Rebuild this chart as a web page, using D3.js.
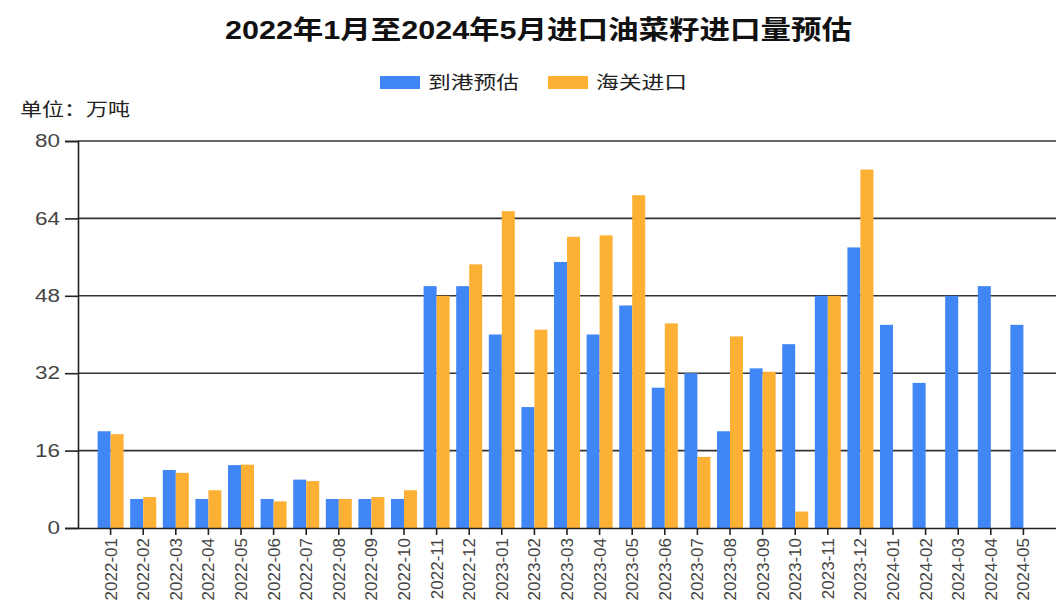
<!DOCTYPE html>
<html>
<head>
<meta charset="utf-8">
<script src="https://cdn.jsdelivr.net/npm/d3@7"></script>
<style>
  body { margin: 0; background: #fff; }
  text { font-family: "Liberation Sans", Arial, "Noto Sans CJK SC", sans-serif; }
</style>
</head>
<body>
<div id="chart-area"></div>
<script>
// Data
const months = ['2022-01', '2022-02', '2022-03', '2022-04', '2022-05', '2022-06', '2022-07', '2022-08',
    '2022-09', '2022-10', '2022-11', '2022-12', '2023-01', '2023-02', '2023-03', '2023-04', '2023-05',
    '2023-06', '2023-07', '2023-08', '2023-09', '2023-10', '2023-11', '2023-12', '2024-01', '2024-02',
    '2024-03', '2024-04', '2024-05'];
const arrival = [20, 6, 12, 6, 13, 6, 10, 6, 6, 6, 50, 50, 40, 25, 55, 40, 46, 29, 32, 20, 33, 38, 48, 58,
    42, 30, 48, 50, 42];
const customs = [19.4, 6.4, 11.4, 7.8, 13.1, 5.5, 9.7, 6, 6.4, 7.8, 48, 54.5, 65.5, 41, 60.2, 60.5, 68.8,
    42.3, 14.7, 39.6, 32.3, 3.4, 48, 74.1, null, null, null, null, null];
const seriesNames = ['到港预估', '海关进口'];
const yTicks = [0, 16, 32, 48, 64, 80];

// Constants
const W = 1056, H = 614;
const LEFT = 78, RIGHT = 1056, TOP = 141, BOTTOM = 528;
const COLORS = ['#4186f5', '#fcb034'];

const svg = d3.select('#chart-area')
    .append('svg')
    .attr('width', W)
    .attr('height', H);

// Title
svg.append('text')
    .attr('x', 225).attr('y', 39)
    .attr('font-size', 26)
    .attr('font-weight', 'bold')
    .attr('fill', '#111')
    .attr('textLength', 627)
    .attr('lengthAdjust', 'spacingAndGlyphs')
    .text('2022年1月至2024年5月进口油菜籽进口量预估');

// Legend
const legendX = [380, 548];
seriesNames.forEach((name, i) => {
    svg.append('rect')
        .attr('x', legendX[i]).attr('y', 76)
        .attr('width', 40).attr('height', 13)
        .attr('fill', COLORS[i]);
    svg.append('text')
        .attr('x', legendX[i] + 48).attr('y', 89)
        .attr('font-size', 18)
        .attr('fill', '#222')
        .attr('textLength', 91)
        .attr('lengthAdjust', 'spacingAndGlyphs')
        .text(name);
});

// Unit label
svg.append('text')
    .attr('x', 20).attr('y', 116)
    .attr('font-size', 18)
    .attr('fill', '#222')
    .attr('textLength', 110)
    .attr('lengthAdjust', 'spacingAndGlyphs')
    .text('单位：万吨');

// Scales
const x0 = d3.scaleBand()
    .domain(months)
    .range([LEFT, RIGHT])
    .paddingInner(0)
    .paddingOuter(0.5);

const x1 = d3.scaleBand()
    .domain([0, 1])
    .range([0, x0.bandwidth()])
    .paddingInner(0)
    .paddingOuter(0.254);

const y = d3.scaleLinear()
    .domain([0, 80])
    .range([BOTTOM, TOP]);

// Gridlines
svg.append('g')
    .selectAll('line')
    .data(yTicks.filter(d => d > 0))
    .enter().append('line')
    .attr('x1', LEFT).attr('x2', RIGHT)
    .attr('y1', d => y(d)).attr('y2', d => y(d))
    .attr('stroke', '#333')
    .attr('stroke-width', 1.6);

// Bars
const rows = months.map((m, i) => ({ month: m, values: [arrival[i], customs[i]] }));
const groups = svg.append('g')
    .selectAll('g')
    .data(rows)
    .enter().append('g')
    .attr('transform', d => `translate(${x0(d.month)},0)`);

groups.selectAll('rect')
    .data(d => d.values.map((v, k) => ({ k, v })).filter(e => e.v != null))
    .enter().append('rect')
    .attr('x', d => x1(d.k))
    .attr('width', x1.bandwidth())
    .attr('y', d => y(d.v))
    .attr('height', d => y(0) - y(d.v))
    .attr('fill', d => COLORS[d.k]);

// Y axis
const yAxis = svg.append('g')
    .attr('transform', `translate(${LEFT},0)`)
    .call(d3.axisLeft(y).tickValues(yTicks).tickSize(13).tickPadding(5));
yAxis.select('.domain').attr('stroke', '#222').attr('stroke-width', 1.6);
yAxis.selectAll('.tick line').attr('stroke', '#222').attr('stroke-width', 1.6);
yAxis.selectAll('.tick text')
    .attr('font-size', 18)
    .attr('fill', '#444')
    .attr('textLength', d => String(d).length * 12.5)
    .attr('lengthAdjust', 'spacingAndGlyphs');

// X axis
const xAxis = svg.append('g')
    .attr('transform', `translate(0,${BOTTOM})`)
    .call(d3.axisBottom(x0).tickSize(7).tickSizeOuter(0).tickPadding(4));
xAxis.select('.domain').attr('stroke', '#222').attr('stroke-width', 1.6);
xAxis.selectAll('.tick line').attr('stroke', '#222').attr('stroke-width', 1.6);
xAxis.selectAll('.tick text')
    .attr('font-size', 17)
    .attr('fill', '#444')
    .attr('transform', 'rotate(-90)')
    .attr('text-anchor', 'end')
    .attr('x', -10)
    .attr('y', 0)
    .attr('dy', '0.35em');
</script>
</body>
</html>
